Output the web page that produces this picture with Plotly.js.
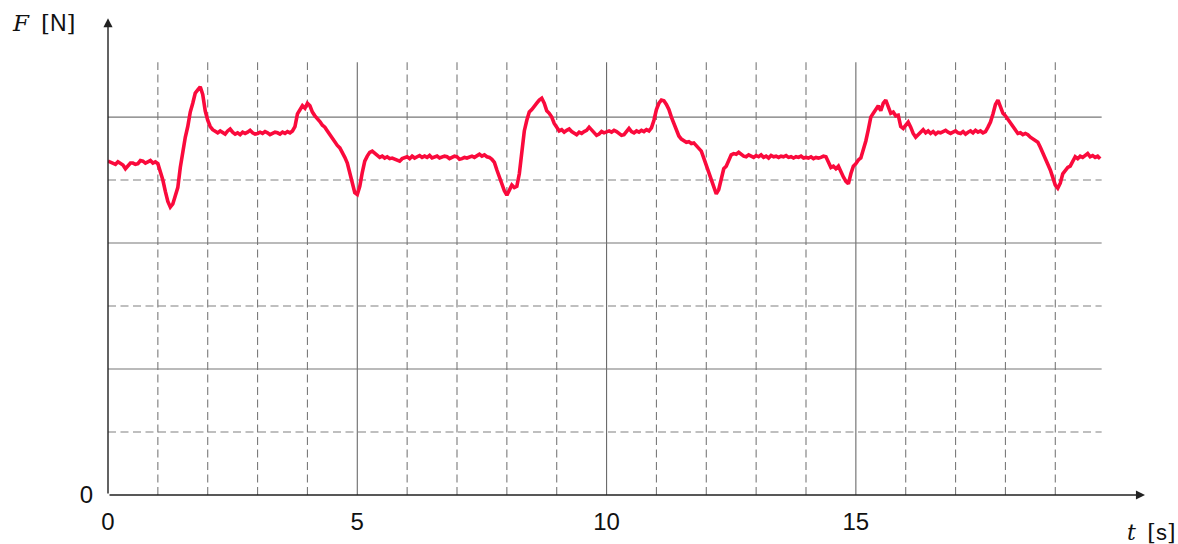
<!DOCTYPE html>
<html>
<head>
<meta charset="utf-8">
<script src="https://cdn.plot.ly/plotly-3.0.1.min.js"></script>
<style>html,body{margin:0;padding:0;background:#fff;}#chart{width:1178px;height:544px;}</style>
</head>
<body>
<div id="chart"></div>
<script>
// Sampling: t from 0 s in steps of 0.05 s
const tStart = 0;
const tStep = 0.05;
// Force F (grid units, 0 at x-axis)
const force = [
 5.30,5.28,5.27,5.25,5.29,5.26,5.24,5.18,5.22,5.27,5.27,5.25,5.26,5.31,5.30,5.27,5.29,5.31,5.27,5.29,
 5.26,5.15,5.00,4.82,4.66,4.57,4.62,4.75,4.88,5.20,5.45,5.68,5.85,6.08,6.22,6.38,6.43,6.48,6.36,6.10,
 5.95,5.85,5.80,5.77,5.75,5.78,5.76,5.73,5.78,5.81,5.76,5.73,5.75,5.72,5.76,5.74,5.76,5.79,5.75,5.73,
 5.74,5.76,5.74,5.77,5.75,5.72,5.74,5.76,5.75,5.73,5.76,5.74,5.77,5.75,5.78,5.85,6.05,6.12,6.18,6.14,
 6.22,6.18,6.08,6.02,5.98,5.93,5.87,5.84,5.78,5.72,5.67,5.60,5.55,5.51,5.44,5.36,5.27,5.12,4.92,4.80,
 4.77,4.90,5.12,5.30,5.38,5.44,5.46,5.42,5.39,5.36,5.38,5.35,5.37,5.34,5.35,5.33,5.31,5.30,5.34,5.36,
 5.37,5.34,5.38,5.35,5.37,5.39,5.36,5.38,5.36,5.39,5.35,5.37,5.38,5.35,5.36,5.38,5.37,5.34,5.36,5.38,
 5.37,5.33,5.34,5.36,5.35,5.37,5.38,5.36,5.39,5.41,5.38,5.40,5.37,5.36,5.33,5.28,5.16,5.05,4.90,4.83,
 4.76,4.85,4.92,4.88,4.90,5.10,5.45,5.78,5.95,6.08,6.12,6.18,6.22,6.27,6.30,6.22,6.10,6.06,6.00,5.90,
 5.83,5.78,5.80,5.76,5.79,5.81,5.77,5.74,5.72,5.76,5.74,5.77,5.79,5.84,5.80,5.74,5.71,5.73,5.77,5.75,
 5.76,5.78,5.76,5.79,5.77,5.73,5.71,5.72,5.76,5.82,5.77,5.75,5.78,5.76,5.79,5.77,5.80,5.78,5.83,5.95,
 6.12,6.22,6.27,6.26,6.20,6.12,6.00,5.90,5.78,5.70,5.65,5.62,5.60,5.61,5.58,5.59,5.55,5.50,5.46,5.35,
 5.24,5.15,5.02,4.92,4.78,4.85,5.05,5.18,5.22,5.30,5.40,5.42,5.41,5.44,5.40,5.38,5.37,5.40,5.38,5.36,
 5.39,5.37,5.40,5.36,5.38,5.35,5.39,5.37,5.38,5.36,5.38,5.37,5.39,5.36,5.37,5.35,5.37,5.36,5.38,5.35,
 5.36,5.35,5.37,5.34,5.36,5.35,5.36,5.38,5.37,5.28,5.20,5.22,5.18,5.22,5.12,5.05,4.98,4.94,5.10,5.22,
 5.26,5.32,5.35,5.48,5.62,5.80,6.00,6.06,6.12,6.18,6.10,6.22,6.27,6.15,6.06,6.08,6.02,6.03,5.85,5.82,
 5.88,5.92,5.84,5.74,5.68,5.72,5.77,5.80,5.75,5.78,5.74,5.77,5.73,5.76,5.75,5.77,5.79,5.76,5.74,5.76,
 5.78,5.75,5.74,5.77,5.73,5.76,5.78,5.75,5.79,5.76,5.78,5.75,5.77,5.84,5.92,6.05,6.20,6.27,6.18,6.06,
 6.02,5.96,5.90,5.84,5.78,5.74,5.75,5.72,5.74,5.72,5.68,5.65,5.62,5.60,5.52,5.44,5.36,5.25,5.16,5.02,
 4.92,4.87,4.95,5.10,5.15,5.20,5.22,5.30,5.37,5.34,5.38,5.36,5.40,5.42,5.37,5.39,5.36,5.38,5.34
];
const xTickVals = [0, 5, 10, 15];
const xTickText = ['0', '5', '10', '15'];
const vGrid = [1,2,3,4,5,6,7,8,9,10,11,12,13,14,15,16,17,18,19];
const hGrid = [1,2,3,4,5,6];

const gridTop = 6.87, gridRight = 19.93;
const shapes = [];
vGrid.forEach(v => {
  const solid = v % 5 === 0;
  shapes.push({type:'line', xref:'x', yref:'y', x0:v, x1:v, y0:0, y1:gridTop,
    line:{color: solid ? '#6a6a6a' : '#7a7a7a', width:1.1, dash: solid ? 'solid' : '8px,4.5px'}, layer:'below'});
});
hGrid.forEach(h => {
  const solid = h % 2 === 0;
  shapes.push({type:'line', xref:'x', yref:'y', x0:0, x1:gridRight, y0:h, y1:h,
    line:{color: solid ? '#777' : '#808080', width:1.1, dash: solid ? 'solid' : '8px,4.5px'}, layer:'below'});
});

const trace = {
  type:'scatter', mode:'lines', x0:tStart, dx:tStep, y:force,
  line:{color:'#fa0a3c', width:3.6}, hoverinfo:'skip'
};

const sans = 'Liberation Sans, Arial, sans-serif';
const serif = 'DejaVu Serif, serif';
const layout = {
  width:1178, height:544,
  margin:{l:108, r:23, t:10, b:49},
  paper_bgcolor:'#fff', plot_bgcolor:'#fff',
  showlegend:false,
  xaxis:{range:[0,21], showgrid:false, zeroline:false, showline:false,
    tickmode:'array', tickvals:xTickVals, ticktext:xTickText,
    ticks:'outside', ticklen:5, tickcolor:'rgba(0,0,0,0)',
    tickfont:{family:sans, size:24, color:'#111'}},
  yaxis:{range:[0,7.7], showgrid:false, zeroline:false, showline:false,
    tickmode:'array', tickvals:[0], ticktext:['0'],
    ticks:'outside', ticklen:9, tickcolor:'rgba(0,0,0,0)',
    tickfont:{family:sans, size:24, color:'#111'}},
  shapes: shapes,
  annotations:[
    {xref:'x', yref:'y', x:20.8, y:0, ax:0, ay:0, axref:'x', ayref:'y', text:'',
     showarrow:true, arrowhead:2, arrowsize:1.3, arrowwidth:1.4, arrowcolor:'#222'},
    {xref:'x', yref:'y', x:0, y:7.57, ax:0, ay:0, axref:'x', ayref:'y', text:'',
     showarrow:true, arrowhead:2, arrowsize:1.3, arrowwidth:1.4, arrowcolor:'#222'},
    {xref:'paper', yref:'paper', x:-0.094, y:0.975, xanchor:'left', yanchor:'middle', showarrow:false,
     text:'<span style="font-family:' + serif + ';font-style:italic">F</span>&nbsp;&nbsp;<span style="font-family:' + serif + '">[</span><span style="font-family:' + sans + '">N</span><span style="font-family:' + serif + '">]</span>',
     font:{size:23, color:'#111'}},
    {xref:'paper', yref:'paper', x:1.021, y:-0.074, xanchor:'right', yanchor:'middle', showarrow:false,
     text:'<span style="font-family:' + serif + ';font-style:italic">t</span>&nbsp;&nbsp;<span style="font-family:' + serif + '">[</span><span style="font-family:' + sans + '">s</span><span style="font-family:' + serif + '">]</span>',
     font:{size:22, color:'#111'}}
  ]
};

Plotly.newPlot('chart', [trace], layout, {staticPlot:true, displayModeBar:false});
</script>
</body>
</html>
